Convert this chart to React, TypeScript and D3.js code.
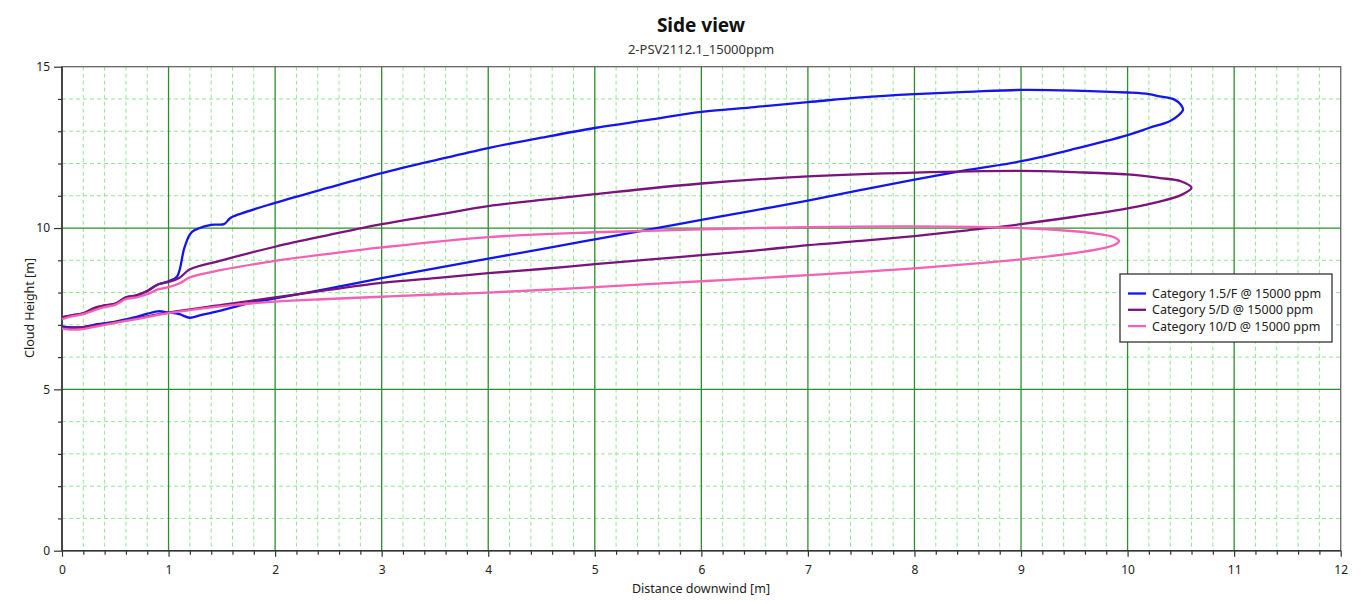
import React, { useEffect, useRef } from 'react'
import * as d3 from 'd3'

// chart text
const title = 'Side view'
const subtitle = '2-PSV2112.1_15000ppm'
const xTitle = 'Distance downwind [m]'
const yTitle = 'Cloud Height [m]'

const seriesNames = [
  'Category 1.5/F @ 15000 ppm',
  'Category 5/D @ 15000 ppm',
  'Category 10/D @ 15000 ppm',
]
const seriesColors = ['#1414f0', '#7a137c', '#f461b4']

const xTickLabels = [0, 1, 2, 3, 4, 5, 6, 7, 8, 9, 10, 11, 12]
const yTickLabels = [0, 5, 10, 15]

// cloud outlines: lower branch out to the tip, then upper branch back to x = 0
const blueX = [0, 0.1, 0.2, 0.3, 0.5, 0.7, 0.9, 1.0, 1.1, 1.2, 1.3, 1.5, 1.8, 2.0, 2.5, 3, 3.5, 4, 4.5, 5, 5.5, 6, 6.5, 7, 7.5, 8, 8.5, 9, 9.5, 10, 10.2, 10.4, 10.48, 10.52,
  10.5, 10.44, 10.3, 10.2, 10, 9.5, 9, 8.5, 8, 7.5, 7, 6.5, 6, 5.5, 5, 4.5, 4, 3.5, 3, 2.5, 2, 1.6, 1.57, 1.52, 1.4, 1.22, 1.15, 1.08, 1.0, 0.9, 0.8, 0.7, 0.6, 0.5, 0.4, 0.3, 0.2, 0.1, 0]
const blueY = [6.95, 6.92, 6.93, 7.0, 7.1, 7.25, 7.42, 7.38, 7.33, 7.22, 7.3, 7.45, 7.7, 7.82, 8.12, 8.45, 8.75, 9.05, 9.35, 9.65, 9.95, 10.25, 10.55, 10.85, 11.18, 11.5, 11.8, 12.07, 12.45, 12.88, 13.1, 13.32, 13.5, 13.66,
  13.82, 13.98, 14.08, 14.15, 14.2, 14.26, 14.28, 14.22, 14.15, 14.05, 13.9, 13.75, 13.6, 13.35, 13.1, 12.8, 12.48, 12.1, 11.7, 11.25, 10.78, 10.35, 10.28, 10.12, 10.1, 9.88, 9.4, 8.5, 8.35, 8.25, 8.05, 7.9, 7.85, 7.65, 7.6, 7.5, 7.35, 7.3, 7.23]

const purpleX = [0, 0.2, 0.5, 1.0, 1.5, 2, 2.5, 3, 3.5, 4, 4.5, 5, 5.5, 6, 6.5, 7, 7.5, 8, 8.5, 9, 9.5, 10, 10.3, 10.5, 10.6,
  10.5, 10.3, 10, 9.5, 9, 8, 7, 6, 5, 4.5, 4, 3.5, 3, 2.5, 2, 1.5, 1.2, 1.1, 1.0, 0.9, 0.8, 0.7, 0.6, 0.5, 0.4, 0.3, 0.2, 0.1, 0]
const purpleY = [6.9, 6.93, 7.08, 7.38, 7.62, 7.85, 8.08, 8.3, 8.45, 8.6, 8.73, 8.88, 9.02, 9.16, 9.3, 9.47, 9.6, 9.75, 9.93, 10.12, 10.35, 10.61, 10.82, 11.02, 11.25,
  11.45, 11.55, 11.66, 11.73, 11.77, 11.72, 11.6, 11.38, 11.05, 10.87, 10.68, 10.4, 10.12, 9.78, 9.42, 9.0, 8.72, 8.45, 8.33, 8.25, 8.05, 7.92, 7.85, 7.66, 7.6, 7.52, 7.36, 7.3, 7.23]

const pinkX = [0, 0.1, 0.2, 0.4, 0.7, 1.0, 1.5, 2, 2.5, 3, 3.5, 4, 4.5, 5, 5.5, 6, 6.5, 7, 7.5, 8, 8.5, 9, 9.5, 9.75, 9.88, 9.92,
  9.86, 9.7, 9.5, 9, 8, 7, 6, 5, 4, 3, 2.5, 2, 1.5, 1.2, 1.1, 1.0, 0.9, 0.8, 0.7, 0.6, 0.5, 0.4, 0.3, 0.2, 0.1, 0]
const pinkY = [6.88, 6.85, 6.87, 7.0, 7.18, 7.36, 7.58, 7.72, 7.8, 7.87, 7.94, 8.0, 8.08, 8.17, 8.26, 8.35, 8.44, 8.54, 8.64, 8.75, 8.88, 9.03, 9.22, 9.36, 9.48, 9.6,
  9.73, 9.83, 9.9, 10.0, 10.05, 10.03, 9.96, 9.87, 9.72, 9.4, 9.2, 8.98, 8.7, 8.47, 8.28, 8.17, 8.1, 7.95, 7.85, 7.8, 7.62, 7.55, 7.45, 7.33, 7.27, 7.18]

const seriesX = [blueX, purpleX, pinkX]
const seriesY = [blueY, purpleY, pinkY]

export default function App() {
  const ref = useRef<SVGSVGElement>(null)

  useEffect(() => {
    const width = 1362, height = 604
    const margin = { top: 66.7, right: 21.3, bottom: 53.3, left: 62 }
    const innerW = width - margin.left - margin.right
    const innerH = height - margin.top - margin.bottom
    const font = '"Noto Sans", "Open Sans", sans-serif'

    const svg = d3.select(ref.current)
    svg.selectAll('*').remove()

    const x = d3.scaleLinear().domain([0, 12]).range([0, innerW])
    const y = d3.scaleLinear().domain([0, 15]).range([innerH, 0])

    const chart = svg.append('g')
      .attr('transform', 'translate(' + margin.left + ',' + margin.top + ')')

    const isInt = (v: number) => Math.abs(v - Math.round(v)) < 1e-6
    const minorX = d3.range(0, 60).map(i => i * 0.2).filter(v => !isInt(v) && v < 12)
    const majorX = xTickLabels.filter(v => v > 0 && v < 12)
    const minorY = d3.range(1, 15).filter(v => v % 5 !== 0)
    const majorY = yTickLabels.filter(v => v > 0 && v < 15)

    // minor dashed grid
    chart.append('g').selectAll('line').data(minorX).enter().append('line')
      .attr('x1', d => x(d)).attr('x2', d => x(d)).attr('y1', 0).attr('y2', innerH)
      .attr('stroke', '#94e694').attr('stroke-dasharray', '4,3').attr('stroke-width', 1)
    chart.append('g').selectAll('line').data(minorY).enter().append('line')
      .attr('y1', d => y(d)).attr('y2', d => y(d)).attr('x1', 0).attr('x2', innerW)
      .attr('stroke', '#94e694').attr('stroke-dasharray', '4,3').attr('stroke-width', 1)

    // major grid
    chart.append('g').selectAll('line').data(majorX).enter().append('line')
      .attr('x1', d => x(d)).attr('x2', d => x(d)).attr('y1', 0).attr('y2', innerH)
      .attr('stroke', '#2a8f2a').attr('stroke-width', 1.3)
    chart.append('g').selectAll('line').data(majorY).enter().append('line')
      .attr('y1', d => y(d)).attr('y2', d => y(d)).attr('x1', 0).attr('x2', innerW)
      .attr('stroke', '#2a8f2a').attr('stroke-width', 1.3)

    // frame
    chart.append('rect')
      .attr('width', innerW).attr('height', innerH)
      .attr('fill', 'none').attr('stroke', '#666').attr('stroke-width', 1.3)

    // axes
    const styleAxis = (g: any) => {
      g.select('.domain').remove()
      g.selectAll('line').attr('stroke', '#333').attr('stroke-width', 1.2)
      g.selectAll('text').attr('font-family', font).attr('font-size', 12).attr('fill', '#222')
    }
    chart.append('g').attr('transform', 'translate(0,' + innerH + ')')
      .call(d3.axisBottom(x).tickValues(xTickLabels).tickSize(6).tickPadding(9).tickFormat(d3.format('d')) as any)
      .call(styleAxis)
    chart.append('g').attr('transform', 'translate(0,' + innerH + ')')
      .call(d3.axisBottom(x).tickValues(minorX).tickSize(4).tickFormat(() => '') as any)
      .call(styleAxis)
    chart.append('g')
      .call(d3.axisLeft(y).tickValues(yTickLabels).tickSize(8).tickPadding(4).tickFormat(d3.format('d')) as any)
      .call(styleAxis)
    chart.append('g')
      .call(d3.axisLeft(y).tickValues(minorY).tickSize(4).tickFormat(() => '') as any)
      .call(styleAxis)

    chart.append('line').attr('x1', 0).attr('x2', innerW).attr('y1', innerH).attr('y2', innerH)
      .attr('stroke', '#333').attr('stroke-width', 1.6)
    chart.append('line').attr('x1', 0).attr('x2', 0).attr('y1', 0).attr('y2', innerH)
      .attr('stroke', '#333').attr('stroke-width', 1.6)

    // series
    const outline = d3.line<[number, number]>()
      .x(d => x(d[0]))
      .y(d => y(d[1]))
      .curve(d3.curveCatmullRom.alpha(0.5))
    seriesNames.forEach((name, s) => {
      const pts: [number, number][] = seriesX[s].map((v, i) => [v, seriesY[s][i]])
      chart.append('path')
        .attr('d', outline(pts) as string)
        .attr('fill', 'none')
        .attr('stroke', seriesColors[s])
        .attr('stroke-width', 2.3)
        .attr('stroke-linejoin', 'round')
    })

    // legend
    const legend = svg.append('g').attr('transform', 'translate(1120,274)')
    legend.append('rect').attr('width', 212).attr('height', 68)
      .attr('fill', 'white').attr('stroke', '#333').attr('stroke-width', 1.3)
    seriesNames.forEach((name, s) => {
      const ly = 19.5 + s * 16.3
      legend.append('line').attr('x1', 8).attr('x2', 26).attr('y1', ly).attr('y2', ly)
        .attr('stroke', seriesColors[s]).attr('stroke-width', 2.3)
      legend.append('text').attr('x', 32).attr('y', ly + 4.5).text(name)
        .attr('font-family', font).attr('font-size', 12.5).attr('fill', '#222')
    })

    // titles
    svg.append('text').attr('x', 701).attr('y', 32).attr('text-anchor', 'middle')
      .attr('font-family', font).attr('font-size', 19).attr('font-weight', 'bold').attr('fill', '#111')
      .text(title)
    svg.append('text').attr('x', 701).attr('y', 54).attr('text-anchor', 'middle')
      .attr('font-family', font).attr('font-size', 13).attr('fill', '#333')
      .text(subtitle)
    svg.append('text').attr('x', 701).attr('y', 593).attr('text-anchor', 'middle')
      .attr('font-family', font).attr('font-size', 12.5).attr('fill', '#222')
      .text(xTitle)
    svg.append('text').attr('transform', 'translate(34,308) rotate(-90)').attr('text-anchor', 'middle')
      .attr('font-family', font).attr('font-size', 12.5).attr('fill', '#222')
      .text(yTitle)
  }, [])

  return (
    <svg ref={ref} width={1362} height={604}
      style={{ position: 'absolute', left: 0, top: 0, background: 'white' }} />
  )
}
